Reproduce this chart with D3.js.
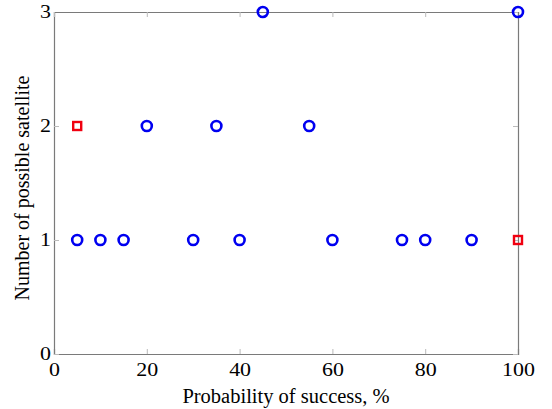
<!DOCTYPE html>
<html>
<head>
<meta charset="utf-8">
<script src="https://cdn.jsdelivr.net/npm/d3@7"></script>
<style>
  body { margin: 0; background: #fff; }
  text { font-family: "Liberation Serif", "DejaVu Serif", serif; fill: #000; }
</style>
</head>
<body>
<div id="chart"></div>
<script>
// data
var circleX = [5, 10, 15, 30, 40, 60, 75, 80, 90, 20, 35, 55, 45, 100];
var circleY = [1, 1, 1, 1, 1, 1, 1, 1, 1, 2, 2, 2, 3, 3];
var squareX = [5, 100];
var squareY = [2, 1];
var xTicks = [0, 20, 40, 60, 80, 100];
var yTicks = [0, 1, 2, 3];

var W = 552, H = 409;
var margin = {top: 12, right: 34, bottom: 55, left: 54}
  , width = W - margin.left - margin.right
  , height = H - margin.top - margin.bottom;

var xScale = d3.scaleLinear().domain([0, 100]).range([0, width]);
var yScale = d3.scaleLinear().domain([0, 3]).range([height, 0]);

var svg = d3.select("#chart").append("svg")
    .attr("width", W)
    .attr("height", H);

var g = svg.append("g")
    .attr("transform", "translate(" + margin.left + "," + margin.top + ")");

var axisColor = "#7a7a7a";
var fmt = d3.format("d");

// bottom axis
var xAxis = g.append("g")
    .attr("transform", "translate(0," + height + ")")
    .call(d3.axisBottom(xScale).tickValues(xTicks).tickFormat(fmt).tickSize(-5).tickPadding(13));
// left axis
var yAxis = g.append("g")
    .call(d3.axisLeft(yScale).tickValues(yTicks).tickFormat(fmt).tickSize(-5).tickPadding(3));
// top and right, ticks only
var xTop = g.append("g")
    .call(d3.axisTop(xScale).tickValues(xTicks).tickSize(-5).tickFormat(""));
var yRight = g.append("g")
    .attr("transform", "translate(" + width + ",0)")
    .call(d3.axisRight(yScale).tickValues(yTicks).tickSize(-5).tickFormat(""));

[xAxis, yAxis, xTop, yRight].forEach(function(a) {
  a.select(".domain").attr("stroke", axisColor).attr("stroke-width", 1.2);
  a.selectAll(".tick line").attr("stroke", "#bbb");
  a.selectAll("text").style("font-size", "18px").style("font-family", "Liberation Serif, serif");
});
// tick digits in the reference are a bit wider than plain Times
xAxis.selectAll(".tick text").attr("dy", "0.5em").attr("transform", "scale(1.22,1)");
yAxis.selectAll(".tick text").attr("x", -2.5).attr("transform", "scale(1.22,1)");

// circles
g.selectAll(".dot")
    .data(circleX.map(function(d, i) { return {x: d, y: circleY[i]}; }))
  .enter().append("circle")
    .attr("class", "dot")
    .attr("cx", function(d) { return xScale(d.x); })
    .attr("cy", function(d) { return yScale(d.y); })
    .attr("r", 5)
    .attr("fill", "none")
    .attr("stroke", "#0000f0")
    .attr("stroke-width", 2.6);

// squares
g.selectAll(".sq")
    .data(squareX.map(function(d, i) { return {x: d, y: squareY[i]}; }))
  .enter().append("rect")
    .attr("class", "sq")
    .attr("x", function(d) { return xScale(d.x) - 4; })
    .attr("y", function(d) { return yScale(d.y) - 4; })
    .attr("width", 8)
    .attr("height", 8)
    .attr("fill", "none")
    .attr("stroke", "#f00010")
    .attr("stroke-width", 2.4);

// axis titles
svg.append("text")
    .attr("x", margin.left + width / 2)
    .attr("y", 403)
    .attr("text-anchor", "middle")
    .style("font-size", "20.5px")
    .text("Probability of success, %");

svg.append("text")
    .attr("transform", "translate(29," + 188 + ") rotate(-90)")
    .attr("text-anchor", "middle")
    .style("font-size", "20px")
    .text("Number of possible satellite");
</script>
</body>
</html>
